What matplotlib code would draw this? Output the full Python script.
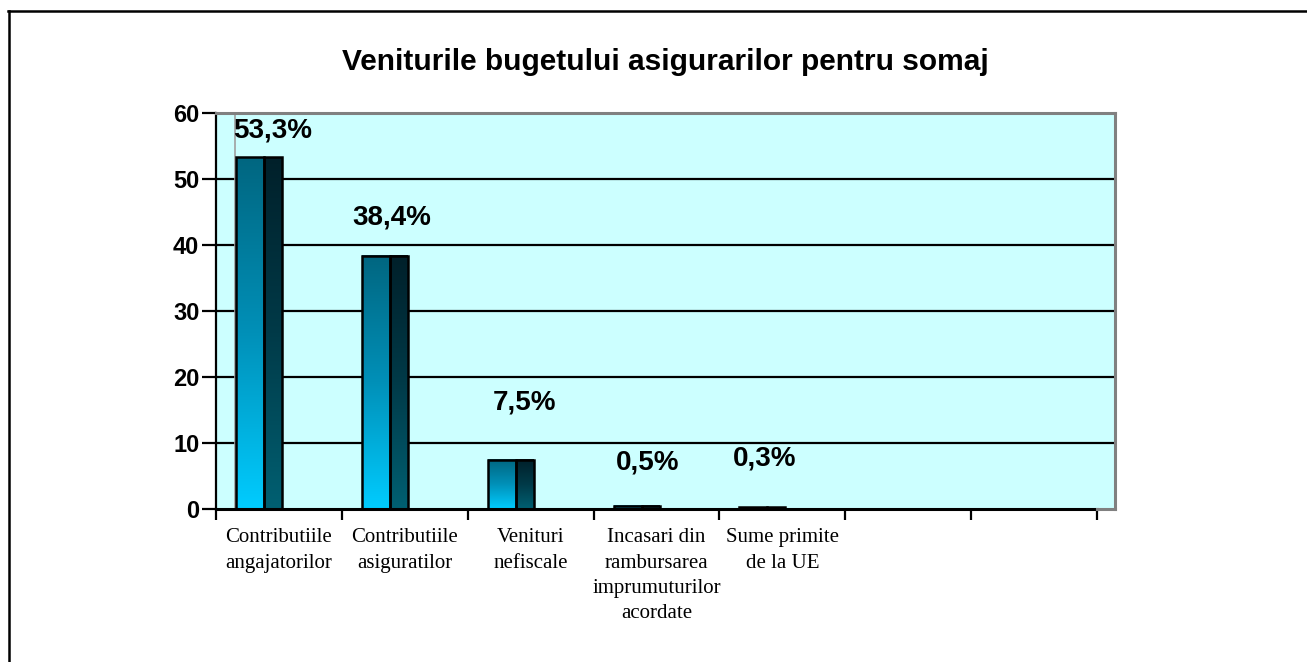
import numpy as np
import matplotlib
matplotlib.use("Agg")
import matplotlib.pyplot as plt
from matplotlib.colors import LinearSegmentedColormap
from matplotlib.patches import Rectangle
from matplotlib.lines import Line2D

# data
categories = ["Contributiile\nangajatorilor", "Contributiile\nasiguratilor",
              "Venituri\nnefiscale", "Incasari din\nrambursarea\nimprumuturilor\nacordate",
              "Sume primite\nde la UE", "", ""]
values = [53.3, 38.4, 7.5, 0.5, 0.3]
labels = ["53,3%", "38,4%", "7,5%", "0,5%", "0,3%"]
yticks = [0, 10, 20, 30, 40, 50, 60]

# where the percent labels sit (data units, relative to the bar)
lab_dx = [-0.05, -0.1, -0.05, -0.07, -0.14]
lab_y = [57.4, 44.1, 16.1, 7.0, 7.6]

W, H = 1307, 662
fig = plt.figure(figsize=(W / 100, H / 100), dpi=100)
fig.patch.set_facecolor("white")

# axes in pixel terms: front axis 216..1097, back wall reaches 1115
ax = fig.add_axes([216 / W, (H - 509) / H, 899 / W, 396 / H])
ax.set_facecolor("#CCFFFF")
cat_px = (1097 - 216) / 7
xmax = -0.5 + 899 / cat_px

for y in yticks[1:-1]:
    ax.axhline(y, color="black", lw=1.6, zorder=1)

front_cmap = LinearSegmentedColormap.from_list("front", ["#00CCFF", "#0090B8", "#006680"])
side_cmap = LinearSegmentedColormap.from_list("side", ["#006072", "#003A48", "#00202A"])
grad = np.linspace(0, 1, 256).reshape(-1, 1)

off = 20 / cat_px
fw = 28 / cat_px
sw = 18 / cat_px
for i, v in enumerate(values):
    x0 = i - 0.5 + off
    ax.imshow(grad, cmap=front_cmap, origin="lower", aspect="auto",
              extent=(x0, x0 + fw, 0, v), zorder=3)
    ax.imshow(grad, cmap=side_cmap, origin="lower", aspect="auto",
              extent=(x0 + fw, x0 + fw + sw, 0, v), zorder=3)
    ax.add_patch(Rectangle((x0, 0), fw, v, fill=False, ec="black", lw=1.8, zorder=4))
    ax.add_patch(Rectangle((x0 + fw, 0), sw, v, fill=False, ec="black", lw=1.8, zorder=4))
    ax.text(i + lab_dx[i], lab_y[i], labels[i], ha="center", va="center",
            fontsize=20, fontweight="bold", family="Liberation Sans", zorder=5)

ax.set_xlim(-0.5, xmax)
ax.set_ylim(0, 60)

# spines: black front axes, gray back wall
for s in ["top", "right"]:
    ax.spines[s].set_color("#808080")
    ax.spines[s].set_linewidth(2.2)
ax.spines["left"].set_color("black")
ax.spines["left"].set_linewidth(1.6)
ax.spines["bottom"].set_visible(False)
ax.plot([-0.5, 6.5], [0, 0], color="black", lw=2.2, clip_on=False, zorder=6)
ax.plot([6.5, xmax], [0, 0], color="#808080", lw=2.2, clip_on=False, zorder=6)
ax.plot([-0.5 + 19 / cat_px] * 2, [0, 60], color="#A0A0A0", lw=1.2, zorder=2)

ax.set_yticks(yticks)
ax.set_yticklabels([str(t) for t in yticks], fontsize=17, fontweight="bold",
                   family="Liberation Sans")
ax.tick_params(axis="y", length=10, width=1.6, pad=2)

ax.set_xticks(np.arange(len(categories)))
ax.set_xticklabels(categories, fontsize=15, family="Liberation Serif", linespacing=1.45)
ax.set_xticks(np.arange(len(categories) + 1) - 0.5, minor=True)
ax.tick_params(axis="x", which="major", length=0, pad=14)
ax.tick_params(axis="x", which="minor", length=8, width=1.6)

fig.text(665 / W, (H - 62) / H, "Veniturile bugetului asigurarilor pentru somaj",
         ha="center", va="center", fontsize=21.5, fontweight="bold", family="Liberation Sans")

# outer frame (only top and left visible)
fig.add_artist(Line2D([8 / W, 1], [(H - 11) / H] * 2, color="black", lw=1.8,
                      transform=fig.transFigure))
fig.add_artist(Line2D([9 / W] * 2, [0, (H - 11) / H], color="black", lw=1.8,
                      transform=fig.transFigure))

fig.savefig("out.png", dpi=100)
